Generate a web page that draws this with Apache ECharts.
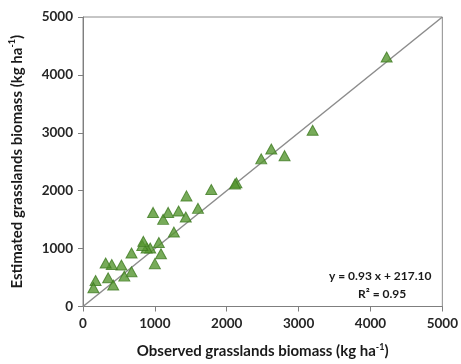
<!DOCTYPE html>
<html>
<head>
<meta charset="utf-8">
<script src="https://cdn.jsdelivr.net/npm/echarts@6/dist/echarts.min.js"></script>
<style>
  html, body { margin: 0; padding: 0; background: #fff; }
  #chart { width: 461px; height: 364px; }
</style>
</head>
<body>
<div id="chart"></div>
<script>
// observed vs estimated biomass (kg ha-1)
var observed  = [4225, 3195, 2805, 2620, 2480, 2135, 2115, 1785, 1600, 1440, 1430, 1330, 1265, 1185, 1115, 975, 1055, 1085, 1000, 935, 885, 825, 840, 675, 675, 575, 535, 400, 315, 350, 420, 175, 145];
var estimated = [4310, 3045, 2605, 2720, 2550, 2135, 2115, 2020, 1695, 1910, 1545, 1650, 1285, 1625, 1505, 1625, 1105, 910, 740, 1010, 1010, 1055, 1125, 925, 600, 525, 715, 725, 750, 495, 370, 450, 325];
var oneToOne  = [[0, 0], [5000, 5000]];
var axisMin = 0, axisMax = 5000, axisStep = 1000;

var chart = echarts.init(document.getElementById('chart'));

var points = observed.map(function (x, i) { return [x, estimated[i]]; });

var font = 'Lato, "Open Sans", sans-serif';
var supRich = {
  t: { fontSize: 15, fontWeight: 'bold', color: '#1a1a1a', fontFamily: font },
  s: { fontSize: 9, fontWeight: 'bold', color: '#1a1a1a', fontFamily: font, padding: [0, 0, 9, 0] }
};
var tickLabel = {
  color: '#262626', fontSize: 13.5, fontWeight: 'bold', fontFamily: font, margin: 10,
  formatter: function (v) { return String(v); }
};

option = {
  animation: false,
  grid: {
    left: 83, right: 18, top: 17, bottom: 55,
    show: true, borderColor: '#8c8c8c', borderWidth: 1
  },
  xAxis: {
    type: 'value', min: axisMin, max: axisMax, interval: axisStep,
    name: '{t|Observed grasslands biomass (kg ha}{s|-1}{t|)}',
    nameLocation: 'middle', nameGap: 36,
    nameTextStyle: { rich: supRich },
    axisLine: { lineStyle: { color: '#7f7f7f', width: 1 } },
    axisTick: { show: true, inside: false, length: 5, lineStyle: { color: '#7f7f7f' } },
    axisLabel: tickLabel,
    splitLine: { show: false }
  },
  yAxis: {
    type: 'value', min: axisMin, max: axisMax, interval: axisStep,
    name: '{t|Estimated grasslands biomass (kg ha}{s|-1}{t|)}',
    nameLocation: 'middle', nameGap: 57, nameRotate: 90,
    nameTextStyle: { rich: supRich },
    axisLine: { show: true, lineStyle: { color: '#7f7f7f', width: 1 } },
    axisTick: { show: true, inside: false, length: 5, lineStyle: { color: '#7f7f7f' } },
    axisLabel: tickLabel,
    splitLine: { show: false }
  },
  series: [
    {
      name: '1:1',
      type: 'line',
      data: oneToOne,
      showSymbol: false,
      lineStyle: { color: '#8c8c8c', width: 1.5 },
      z: 1
    },
    {
      name: 'biomass',
      type: 'scatter',
      data: points,
      symbol: 'triangle',
      symbolSize: [11, 10],
      itemStyle: { color: '#559630', borderColor: '#3f7a22', borderWidth: 1 },
      z: 3
    }
  ],
  graphic: [
    {
      type: 'text', left: 329, top: 270,
      style: { text: 'y = 0.93 x + 217.10', fontSize: 12, fontWeight: 'bold', fill: '#1a1a1a', fontFamily: font }
    },
    {
      type: 'text', left: 358, top: 288,
      style: { text: 'R² = 0.95', fontSize: 12, fontWeight: 'bold', fill: '#1a1a1a', fontFamily: font }
    }
  ]
};

chart.setOption(option);
</script>
</body>
</html>
